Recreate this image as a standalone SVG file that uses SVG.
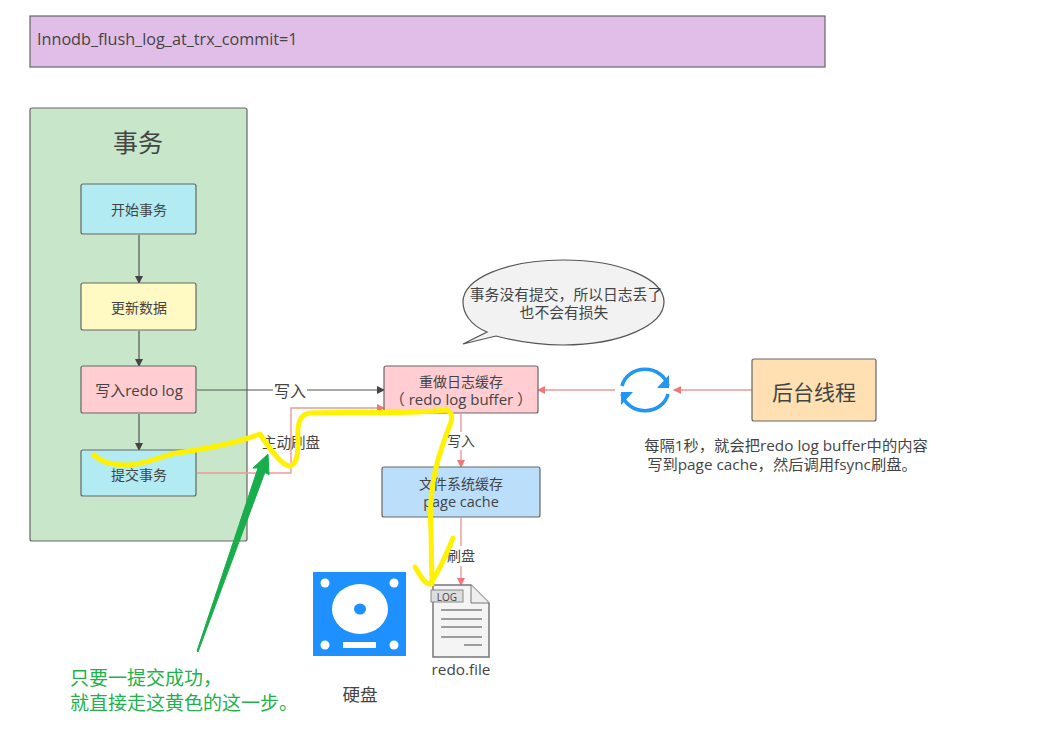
<svg xmlns="http://www.w3.org/2000/svg" width="1040" height="734" viewBox="0 0 1040 734">
<style>
text{font-family:"Open Sans","Noto Sans CJK SC",sans-serif;fill:#444;text-anchor:middle;font-size:15px}
.c{font-size:14px}
.n{stroke:#666;stroke-width:1.2}
.blk{fill:none;stroke:#555;stroke-width:1.2}
.red{fill:none;stroke:#eb9a9a;stroke-width:1.4}
.yel{fill:none;stroke:#fff200;stroke-width:5;stroke-linecap:round;stroke-linejoin:round}
.bg{fill:#fff}
</style>
<defs>
<marker id="ab" markerWidth="8" markerHeight="8" refX="7" refY="4" orient="auto" markerUnits="userSpaceOnUse"><path d="M0 0L8 4L0 8Z" fill="#444"/></marker>
<marker id="ar" markerWidth="8" markerHeight="8" refX="7" refY="4" orient="auto" markerUnits="userSpaceOnUse"><path d="M0 0L8 4L0 8Z" fill="#e77"/></marker>
</defs>
<rect width="1040" height="734" fill="#fff"/>
<g id="title"><rect class="n" x="30" y="16" width="795" height="51" fill="#e1bee7"/><text x="37" y="45" style="font-size:16.200px;text-anchor:start">Innodb_flush_log_at_trx_commit=1</text></g>
<g id="tx"><rect class="n" x="30" y="108" width="217" height="433" rx="2" fill="#c8e6c9"/><text x="138" y="152" style="font-size:25px">事务</text></g>
<g id="connectors">
<path class="blk" d="M139 235V283" marker-end="url(#ab)"/>
<path class="blk" d="M139 331V366" marker-end="url(#ab)"/>
<path class="blk" d="M139 414V450" marker-end="url(#ab)"/>
<path class="blk" d="M197 390H384" marker-end="url(#ab)"/>
<path class="red" d="M197 473H291V408H384" marker-end="url(#ar)"/>
<path class="red" d="M461 414V467" marker-end="url(#ar)"/>
<path class="red" d="M461 518V585" marker-end="url(#ar)"/>
<path class="red" d="M615 390H538" marker-end="url(#ar)"/>
<path class="red" d="M752 390H674" marker-end="url(#ar)"/>
<rect class="bg" x="273" y="380" width="34" height="20"/><text x="290" y="397" style="font-size:16px">写入</text>
<text x="291" y="448" style="font-size:14.500px">主动刷盘</text>
<rect class="bg" x="447" y="432" width="28" height="18"/><text x="461" y="446" class="c">写入</text>
<rect class="bg" x="447" y="546" width="30" height="20"/><text x="461" y="561" class="c">刷盘</text>
</g>
<g id="n1"><rect class="n" x="81" y="184" width="115" height="50" rx="2" fill="#b2ebf2"/><text x="139" y="215" class="c">开始事务</text></g>
<g id="n2"><rect class="n" x="81" y="283" width="115" height="47" rx="2" fill="#fff9c4"/><text x="139" y="313" class="c">更新数据</text></g>
<g id="n3"><rect class="n" x="81" y="366" width="115" height="47" rx="2" fill="#ffcdd2"/><text x="139" y="396">写入redo log</text></g>
<g id="n4"><rect class="n" x="81" y="450" width="115" height="46" rx="2" fill="#b2ebf2"/><text x="139" y="480" class="c">提交事务</text></g>
<g id="n5"><rect class="n" x="384" y="366" width="154" height="47" rx="2" fill="#ffcdd2"/><text x="461" y="387" class="c">重做日志缓存</text><text x="461" y="405">（ redo log buffer ）</text></g>
<g id="n6"><rect class="n" x="382" y="467" width="158" height="50" rx="2" fill="#bbdefb"/><text x="461" y="489" class="c">文件系统缓存</text><text x="461" y="507" style="font-size:14.500px">page cache</text></g>
<g id="n7"><rect class="n" x="752" y="359" width="124" height="62" rx="2" fill="#ffe0b2"/><text x="814" y="400" style="font-size:21px">后台线程</text></g>
<g id="bubble"><path d="M463 344L487 332C470 325 463 313 463 302C463 279 505 260 563 260C621 260 664 279 664 302C664 325 621 345 563 345C535 345 515 341 496 336Z" fill="#f2f2f2" stroke="#555" stroke-width="1.2"/><text x="566" y="300" style="font-size:14.800px">事务没有提交，所以日志丢了</text><text x="564" y="318" style="font-size:14.800px">也不会有损失</text></g>
<g id="loop"><path d="M622 386A23.500 21 0 0 1 668 386M668 394A23.500 21 0 0 1 622 394" fill="none" stroke="#2196f3" stroke-width="3.500"/><path d="M669 375V388H657ZM621 405V392H633Z" fill="#2196f3"/></g>
<g id="disk"><rect x="313" y="572" width="93" height="84" fill="#1e90ff"/><g fill="#fff"><circle cx="325" cy="583" r="4.500"/><circle cx="394" cy="583" r="4.500"/><circle cx="325" cy="645" r="4.500"/><circle cx="394" cy="645" r="4.500"/><ellipse cx="360" cy="609" rx="28" ry="25"/><rect x="343" y="642" width="33" height="6"/></g><ellipse cx="360" cy="609" rx="6" ry="5.500" fill="#1e90ff"/><text x="360" y="701" style="font-size:17.500px">硬盘</text></g>
<g id="file"><path d="M433 585H471L489 603V657H433Z" fill="#f4f4f4" stroke="#777" stroke-width="1.500"/><path d="M471 585V603H489" fill="#eee" stroke="#777"/><rect x="431" y="590" width="32" height="12" fill="#ddd" stroke="#888"/><text x="447" y="601" style="font-size:10px">LOG</text><path d="M441 610H482M441 619H482M441 627H482M441 637H482M464 645H482" stroke="#444" fill="none"/><text x="461" y="675" style="font-size:15.300px">redo.file</text></g>
<text x="786" y="451" style="font-size:15.300px">每隔1秒，就会把redo log buffer中的内容</text>
<text x="782" y="470" style="font-size:15.300px">写到page cache，然后调用fsync刷盘。</text>
<g id="annotations">
<path class="yel" d="M94 455C103 464 115 465 125 465C145 465 160 456 177 453C205 449 235 444 260 434C268 446 281 466 290 466C298 464 298 450 298 440C297 425 299 414 310 413C350 411 400 415 447 410C452 412 453 418 450 425C444 440 436 462 433 483C430 500 430 515 431 530L432 584M415 567C420 575 424 584 430 584C440 570 447 553 453 538"/>
<path d="M197 651L258 468L253 468L268 454L269 475L265 472L198 652Z" fill="#1aad4b" stroke="#1aad4b" stroke-width="1"/>
<text x="70" y="685" style="font-size:19px;text-anchor:start;fill:#22b14c">只要一提交成功，</text>
<text x="70" y="710" style="font-size:19px;text-anchor:start;fill:#22b14c">就直接走这黄色的这一步。</text>
</g>
</svg>
